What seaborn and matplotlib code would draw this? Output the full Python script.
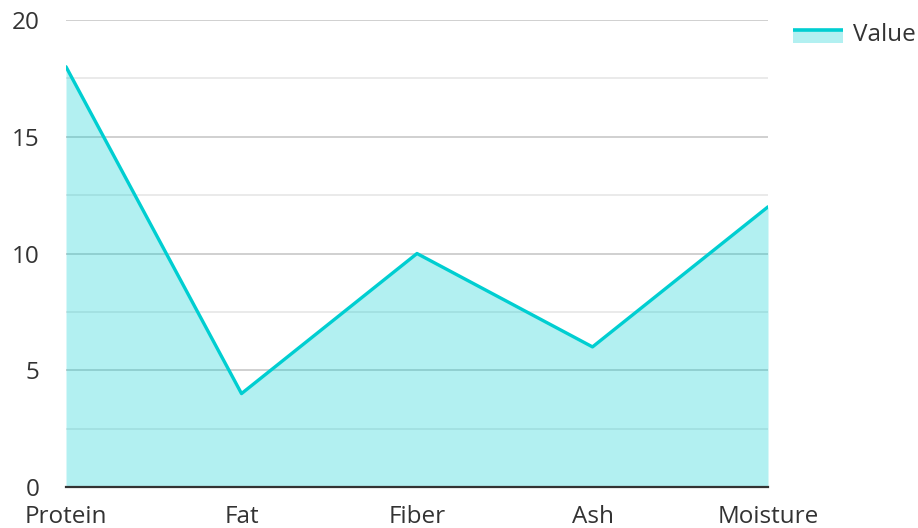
import matplotlib
matplotlib.use('Agg')
import matplotlib.pyplot as plt
import seaborn as sns
import pandas as pd
from matplotlib.patches import Rectangle
from matplotlib.lines import Line2D
from matplotlib.legend_handler import HandlerBase
from matplotlib.ticker import MultipleLocator

# Data
categories = ['Protein', 'Fat', 'Fiber', 'Ash', 'Moisture']
values = [18, 4, 10, 6, 12]

df = pd.DataFrame({'Component': categories, 'Value': values})
df['pos'] = range(len(df))

LINE = '#00CED1'
FS = 17.5

sns.set_theme(style='white')
plt.rcParams['font.family'] = ['Open Sans', 'DejaVu Sans']


# legend key: filled area with the line along its top edge
class AreaHandler(HandlerBase):
    def create_artists(self, legend, orig_handle, xdescent, ydescent,
                       width, height, fontsize, trans):
        x0, y0 = -xdescent, -ydescent
        top = y0 + height * 0.6
        bottom = y0 - height * 0.15
        rect = Rectangle((x0, bottom), width, top - bottom,
                         facecolor=LINE, alpha=0.3, edgecolor='none', transform=trans)
        line = Line2D([x0, x0 + width], [top, top], color=LINE, linewidth=2.6,
                      solid_capstyle='butt', transform=trans)
        return [rect, line]


fig = plt.figure(figsize=(9.18, 5.28), dpi=100)
ax = fig.add_axes([0.0719, 0.0777, 0.7647, 0.8843])

# grid first, area on top
ax.yaxis.set_major_locator(MultipleLocator(5))
ax.yaxis.set_minor_locator(MultipleLocator(2.5))
ax.grid(which='major', axis='y', color='#c8c8c8', linewidth=1.2, zorder=0)
ax.grid(which='minor', axis='y', color='#e6e6e6', linewidth=1.2, zorder=0)
ax.set_axisbelow(True)

ax.fill_between(df['pos'], df['Value'], 0, color=LINE, alpha=0.3, linewidth=0, zorder=2)
sns.lineplot(data=df, x='pos', y='Value', color=LINE, linewidth=2.4, ax=ax, zorder=3)

ax.set_xlim(0, len(df) - 1)
ax.set_ylim(0, 20)
ax.set_xticks(df['pos'])
ax.set_xticklabels(categories)
ax.set_xlabel('')
ax.set_ylabel('')

for s in ['top', 'right', 'left']:
    ax.spines[s].set_visible(False)
ax.spines['bottom'].set_color('#333333')
ax.spines['bottom'].set_linewidth(1.6)
ax.spines['bottom'].set_zorder(4)

ax.tick_params(axis='x', length=0, pad=13, labelsize=FS, labelcolor='#333333')
ax.tick_params(axis='y', which='both', length=0, pad=19, labelsize=FS, labelcolor='#333333')

leg = fig.legend([object()], ['Value'], loc='upper left', bbox_to_anchor=(0.864, 0.957),
                 frameon=False, fontsize=FS, handlelength=2.05, handletextpad=0.42,
                 borderpad=0, borderaxespad=0,
                 handler_map={object: AreaHandler()})
for t in leg.get_texts():
    t.set_color('#333333')

plt.savefig('out.png', dpi=100)
plt.close()
